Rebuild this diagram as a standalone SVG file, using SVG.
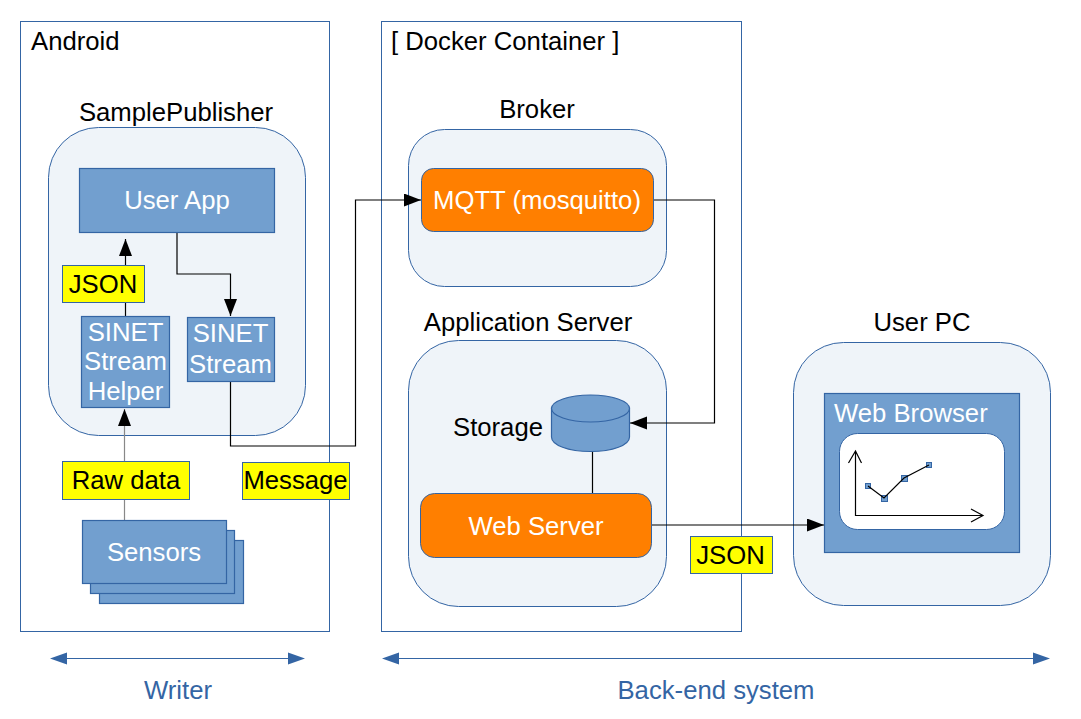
<svg xmlns="http://www.w3.org/2000/svg" width="1081" height="719" viewBox="0 0 1081 719">
<style>
text{font-family:"Liberation Sans",Arial,sans-serif;font-size:25.700px;fill:#000;text-anchor:middle}
text.w{fill:#fff}
text.b{fill:#3465a4}
text.s{text-anchor:start}
.frame{fill:#fff;stroke:#3465a4;stroke-width:1}
.cont{fill:#eff4f9;stroke:#3465a4;stroke-width:1}
.box{fill:#729fcf;stroke:#3465a4;stroke-width:1.200}
.or{fill:#ff7f00;stroke:#3465a4;stroke-width:1}
.lab{fill:#ffff00;stroke:#3465a4;stroke-width:1}
.c{fill:none;stroke:#000;stroke-width:1.200}
.dim{fill:none;stroke:#3465a4;stroke-width:1.200}
</style>
<defs>
<marker id="ah" markerUnits="userSpaceOnUse" markerWidth="18" markerHeight="14" refX="17" refY="6.500" orient="auto"><path d="M0 0L17 6.500L0 13Z" fill="#000"/></marker>
</defs>
<rect width="1081" height="719" fill="#fff"/>
<g id="android"><rect class="frame" x="20.500" y="21.500" width="309" height="610"/><text class="s" x="31" y="50">Android</text></g>
<g id="docker"><rect class="frame" x="381.500" y="21.500" width="360" height="610"/><text class="s" x="391" y="50">[ Docker Container ]</text></g>
<g id="samplepublisher"><rect class="cont" x="48.500" y="127.500" width="257" height="308" rx="50"/><text x="176" y="121">SamplePublisher</text></g>
<g id="broker"><rect class="cont" x="408.500" y="129.500" width="258" height="157" rx="36"/><text x="537" y="118">Broker</text></g>
<g id="appserver"><rect class="cont" x="408.500" y="340.500" width="258" height="266" rx="50"/><text x="528" y="331">Application Server</text></g>
<g id="userpc"><rect class="cont" x="793.500" y="342.500" width="257" height="263" rx="50"/><text x="922" y="331">User PC</text></g>

<g id="connectors">
<path class="c" d="M125.500 316V239" marker-end="url(#ah)"/>
<path class="c" d="M177 232V274H230.500V316" marker-end="url(#ah)"/>
<path d="M124.500 520V409" fill="none" stroke="#888" stroke-width="1.200" marker-end="url(#ah)"/>
<path class="c" d="M230.500 381V446H355.500V200H421" marker-end="url(#ah)"/>
<path class="c" d="M653 200H714.500V423H630" marker-end="url(#ah)"/>
<path class="c" d="M592.500 450V494"/>
<path class="c" d="M651 525H824" marker-end="url(#ah)"/>
</g>

<g id="userapp"><rect class="box" x="79.500" y="168.500" width="195" height="64"/><text class="w" x="177" y="209">User App</text></g>
<g id="helper"><rect class="box" x="81.500" y="316.500" width="88" height="91"/><text class="w" x="125.500" y="341">SINET</text><text class="w" x="125.500" y="370">Stream</text><text class="w" x="125.500" y="400">Helper</text></g>
<g id="sinetstream"><rect class="box" x="187.500" y="317.500" width="87" height="64"/><text class="w" x="230.500" y="342">SINET</text><text class="w" x="230.500" y="373">Stream</text></g>
<g id="sensors"><rect class="box" x="99.500" y="540.500" width="144" height="63"/><rect class="box" x="90.500" y="530.500" width="144" height="63"/><rect class="box" x="82.500" y="520.500" width="144" height="63"/><text class="w" x="154" y="561">Sensors</text></g>
<g id="mqtt"><rect class="or" x="421.500" y="168.500" width="232" height="63" rx="12"/><text class="w" x="537" y="209">MQTT (mosquitto)</text></g>
<g id="storage"><path class="box" d="M551.500 408V437C551.500 445 568 451.500 590.500 451.500S629.500 445 629.500 437V408Z"/><ellipse class="box" cx="590.500" cy="408.500" rx="39" ry="13.500"/><text x="498" y="436">Storage</text></g>
<g id="webserver"><rect class="or" x="420.500" y="493.500" width="231" height="64" rx="14"/><text class="w" x="536" y="535">Web Server</text></g>
<g id="webbrowser"><rect class="box" x="824.500" y="393.500" width="195" height="159"/><text class="w s" x="834" y="422">Web Browser</text>
<rect x="839.500" y="433.500" width="165" height="96" rx="18" fill="#fff" stroke="#3465a4"/>
<path class="c" d="M855.500 452V515.500H982M848.500 463L855.500 451L861.500 463M971 509L983 515.500L971 522"/>
<g fill="#729fcf" stroke="#3465a4"><rect x="865.500" y="483.500" width="5" height="5"/><rect x="881.500" y="495.500" width="6" height="6"/><rect x="901.500" y="475.500" width="6" height="6"/><rect x="926.500" y="462.500" width="5" height="5"/></g>
<path class="c" d="M868 486L884 498L904 478L929 465"/></g>

<g id="label-json1"><rect class="lab" x="62.500" y="265.500" width="82" height="37"/><text x="103" y="293">JSON</text></g>
<g id="label-raw"><rect class="lab" x="62.500" y="461.500" width="127" height="38"/><text x="126" y="489">Raw data</text></g>
<g id="label-message"><rect class="lab" x="242.500" y="462.500" width="107" height="37"/><text x="295.500" y="489">Message</text></g>
<g id="label-json2"><rect class="lab" x="690.500" y="536.500" width="82" height="37"/><text x="730.500" y="564">JSON</text></g>

<g id="writer"><path class="dim" d="M67 658.500H289"/><path d="M50 658.500L67 652.500V664.500Z M305 658.500L288 652.500V664.500Z" fill="#3465a4"/><text class="b" x="178" y="699">Writer</text></g>
<g id="backend"><path class="dim" d="M399 658.500H1033"/><path d="M382 658.500L399 652.500V664.500Z M1050 658.500L1033 652.500V664.500Z" fill="#3465a4"/><text class="b" x="716" y="699">Back-end system</text></g>
</svg>
